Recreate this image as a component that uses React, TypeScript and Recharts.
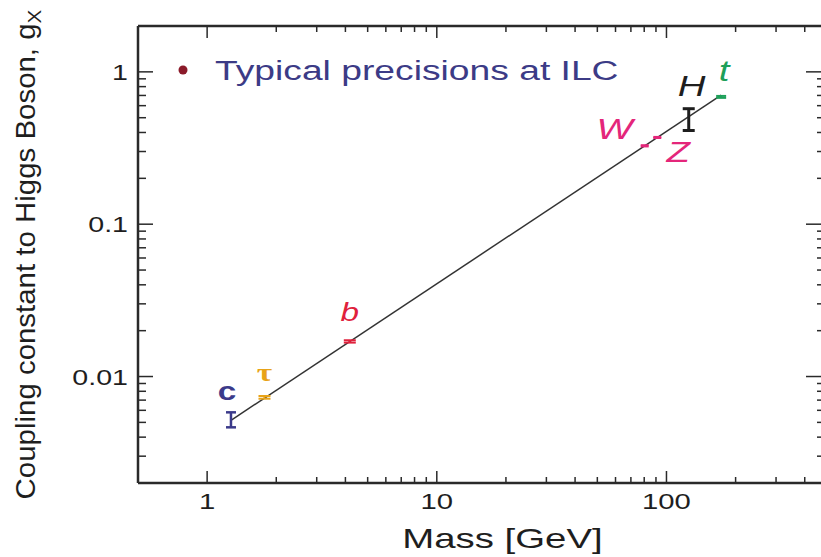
import React from 'react';
import { ComposedChart, XAxis, YAxis, Line, Scatter, ErrorBar, Legend, Label } from 'recharts';

// ---------- data ----------
const particles = ['c', 'τ', 'b', 'W', 'Z', 'H', 't'];
const masses = [1.27, 1.777, 4.18, 80.4, 91.2, 125, 173];
const couplings = [0.0052, 0.0073, 0.017, 0.327, 0.371, 0.49, 0.685];
const errLow = [0.00056, 0.00015, 0.0003, 0.003, 0.003, 0.078, 0.01];
const errHigh = [0.00062, 0.00015, 0.0003, 0.003, 0.003, 0.083, 0.01];

const fitMass = [1.27, 173];
const fitCoupling = [0.00516, 0.703];

const xMajorTicks = [1, 10, 100];
const xMinorTicks = [2, 3, 4, 5, 6, 7, 8, 9, 20, 30, 40, 50, 60, 70, 80, 90, 200, 300, 400];
const yMajorTicks = [0.01, 0.1, 1];
const yMinorTicks = [0.003, 0.004, 0.005, 0.006, 0.007, 0.008, 0.009, 0.02, 0.03, 0.04, 0.05, 0.06, 0.07, 0.08, 0.09, 0.2, 0.3, 0.4, 0.5, 0.6, 0.7, 0.8, 0.9];
const xDomain = [0.5, 500];
const yDomain = [0.002, 2];

const legendLabel = 'Typical precisions at ILC';
const xTitle = 'Mass [GeV]';
const yTitle = 'Coupling constant to Higgs Boson, g';
const yTitleSub = 'X';

// ---------- styles ----------
const SANS = 'Liberation Sans, Arial, Helvetica, sans-serif';
const SERIF = 'Liberation Serif, Times New Roman, serif';
const INK = '#1e1e1e';
const FRAME = '#2a2a2a';
const SX = 1.33;

const particleStyle: Record<string, any> = {
  c: { color: '#3b3a8a', family: SANS, italic: false, weight: 600, size: 26, dx: -4, dy: -20, cap: 5, sw: 2.5 },
  'τ': { color: '#e8a318', family: SERIF, italic: false, weight: 700, size: 26, dx: 0, dy: -16, cap: 6, sw: 2 },
  b: { color: '#e0213c', family: SANS, italic: true, weight: 400, size: 26, dx: 0, dy: -20, cap: 6, sw: 2 },
  W: { color: '#e4267a', family: SANS, italic: true, weight: 400, size: 30, dx: -30, dy: -7, cap: 4, sw: 2 },
  Z: { color: '#e4267a', family: SANS, italic: true, weight: 400, size: 30, dx: 21, dy: 25, cap: 4, sw: 2 },
  H: { color: '#1e1e1e', family: SANS, italic: true, weight: 400, size: 30, dx: 3, dy: -23, cap: 6, sw: 3 },
  t: { color: '#1ea05a', family: SANS, italic: true, weight: 400, size: 30, dx: 3, dy: -16, cap: 5, sw: 2 },
};

const fitData = fitMass.map((m, i) => ({ m, g: fitCoupling[i] }));
const particleData = particles.map((name, i) => ({
  name,
  m: masses[i],
  g: couplings[i],
  err: [errLow[i], errHigh[i]],
}));

const BottomTick = (props: any) => {
  const { x, y, payload } = props;
  const v = payload.value;
  const major = xMajorTicks.includes(v);
  return (
    <g>
      <line x1={x} x2={x} y1={y} y2={y - (major ? 12 : 6)} stroke={FRAME} strokeWidth={1.5} />
      {major && (
        <text transform={`translate(${x},${y + 26}) scale(${SX},1)`} textAnchor="middle" fontSize={22} fontFamily={SANS} fill={INK}>
          {String(v)}
        </text>
      )}
    </g>
  );
};

const TopTick = (props: any) => {
  const { x, y, payload } = props;
  const major = xMajorTicks.includes(payload.value);
  return <line x1={x} x2={x} y1={y} y2={y + (major ? 12 : 6)} stroke={FRAME} strokeWidth={1.5} />;
};

const LeftTick = (props: any) => {
  const { x, y, payload } = props;
  const v = payload.value;
  const major = yMajorTicks.includes(v);
  return (
    <g>
      <line x1={x} x2={x + (major ? 15 : 8)} y1={y} y2={y} stroke={FRAME} strokeWidth={1.5} />
      {major && (
        <text transform={`translate(${x - 10},${y + 8}) scale(1.3,1)`} textAnchor="end" fontSize={22} fontFamily={SANS} fill={INK}>
          {String(v)}
        </text>
      )}
    </g>
  );
};

const RightTick = (props: any) => {
  const { x, y, payload } = props;
  const major = yMajorTicks.includes(payload.value);
  return <line x1={x} x2={x - (major ? 21 : 10)} y1={y} y2={y} stroke={FRAME} strokeWidth={1.5} />;
};

const makeShape = (name: string) => (props: any) => {
  const s = particleStyle[name];
  const { cx, cy } = props;
  if (cx == null || cy == null) return <g />;
  return (
    <text
      transform={`translate(${cx + s.dx},${cy + s.dy}) scale(1.28,1)`}
      textAnchor="middle"
      fontSize={s.size}
      fontFamily={s.family}
      fontStyle={s.italic ? 'italic' : 'normal'}
      fontWeight={s.weight}
      fill={s.color}
    >
      {name}
    </text>
  );
};

const YTitle = (props: any) => {
  const vb = props.viewBox || { x: 0, y: 26, width: 138, height: 457 };
  const cy = vb.y + vb.height / 2;
  return (
    <text
      transform={`translate(35,${cy}) rotate(-90) scale(1.09,1)`}
      textAnchor="middle"
      fontSize={27}
      fontFamily={SANS}
      fill={INK}
    >
      {yTitle}
      <tspan fontSize={19} dy={6}>{yTitleSub}</tspan>
    </text>
  );
};

const XTitle = (props: any) => {
  const vb = props.viewBox || { x: 138, y: 483, width: 689, height: 74 };
  const cx = vb.x + vb.width / 2 + 20;
  return (
    <text transform={`translate(${cx},${vb.y + 65}) scale(1.37,1)`} textAnchor="middle" fontSize={28} fontFamily={SANS} fill={INK}>
      {xTitle}
    </text>
  );
};

const LegendContent = () => (
  <svg width={460} height={50} style={{ display: 'block', overflow: 'visible' }}>
    <circle cx={7} cy={20} r={4.5} fill="#8b1a2a" />
    <text transform={`translate(39,30) scale(${SX},1)`} fontSize={28} fontFamily={SANS} fill="#3c3b86">
      {legendLabel}
    </text>
  </svg>
);

export default function App() {
  return (
    <div style={{ position: 'absolute', left: 0, top: 0, width: 821, height: 557, overflow: 'hidden', background: '#fff' }}>
      <ComposedChart width={840} height={557} margin={{ top: 0, right: 0, bottom: 0, left: 0 }}>
        <XAxis
          xAxisId="bottom"
          dataKey="m"
          type="number"
          scale="log"
          domain={xDomain}
          allowDataOverflow
          ticks={[...xMajorTicks, ...xMinorTicks]}
          interval={0}
          tickSize={0}
          tickMargin={0}
          tickLine={false}
          tick={<BottomTick />}
          height={74}
          orientation="bottom"
          axisLine={{ stroke: FRAME, strokeWidth: 2.5 }}
        >
          <Label content={<XTitle />} />
        </XAxis>
        <XAxis
          xAxisId="top"
          dataKey="m"
          type="number"
          scale="log"
          domain={xDomain}
          allowDataOverflow
          ticks={[...xMajorTicks, ...xMinorTicks]}
          interval={0}
          tickSize={0}
          tickMargin={0}
          tickLine={false}
          tick={<TopTick />}
          height={26}
          orientation="top"
          axisLine={{ stroke: FRAME, strokeWidth: 2.5 }}
        />
        <YAxis
          yAxisId="left"
          dataKey="g"
          type="number"
          scale="log"
          domain={yDomain}
          allowDataOverflow
          ticks={[...yMajorTicks, ...yMinorTicks]}
          interval={0}
          tickSize={0}
          tickMargin={0}
          tickLine={false}
          tick={<LeftTick />}
          width={138}
          orientation="left"
          axisLine={{ stroke: FRAME, strokeWidth: 2.5 }}
        >
          <Label content={<YTitle />} />
        </YAxis>
        <YAxis
          yAxisId="right"
          dataKey="g"
          type="number"
          scale="log"
          domain={yDomain}
          allowDataOverflow
          ticks={[...yMajorTicks, ...yMinorTicks]}
          interval={0}
          tickSize={0}
          tickMargin={0}
          tickLine={false}
          tick={<RightTick />}
          width={13}
          orientation="right"
          axisLine={{ stroke: FRAME, strokeWidth: 2.5 }}
        />
        <Legend
          layout="vertical"
          align="center"
          verticalAlign="middle"
          wrapperStyle={{ left: 176, top: 50, width: 460, height: 50 }}
          content={<LegendContent />}
        />
        <Line
          data={fitData}
          xAxisId="top"
          yAxisId="right"
          dataKey="g"
          stroke="none"
          dot={false}
          activeDot={false}
          legendType="none"
          isAnimationActive={false}
        />
        <Line
          data={fitData}
          xAxisId="bottom"
          yAxisId="left"
          dataKey="g"
          stroke="#333"
          strokeWidth={1.5}
          dot={false}
          activeDot={false}
          isAnimationActive={false}
        />
        {particleData.map((d) => {
          const s = particleStyle[d.name];
          return (
            <Scatter
              key={d.name}
              name={d.name}
              data={[d]}
              xAxisId="bottom"
              yAxisId="left"
              dataKey="g"
              shape={makeShape(d.name)}
              isAnimationActive={false}
            >
              <ErrorBar dataKey="err" direction="y" width={s.cap} stroke={s.color} strokeWidth={s.sw} isAnimationActive={false} />
            </Scatter>
          );
        })}
      </ComposedChart>
    </div>
  );
}
